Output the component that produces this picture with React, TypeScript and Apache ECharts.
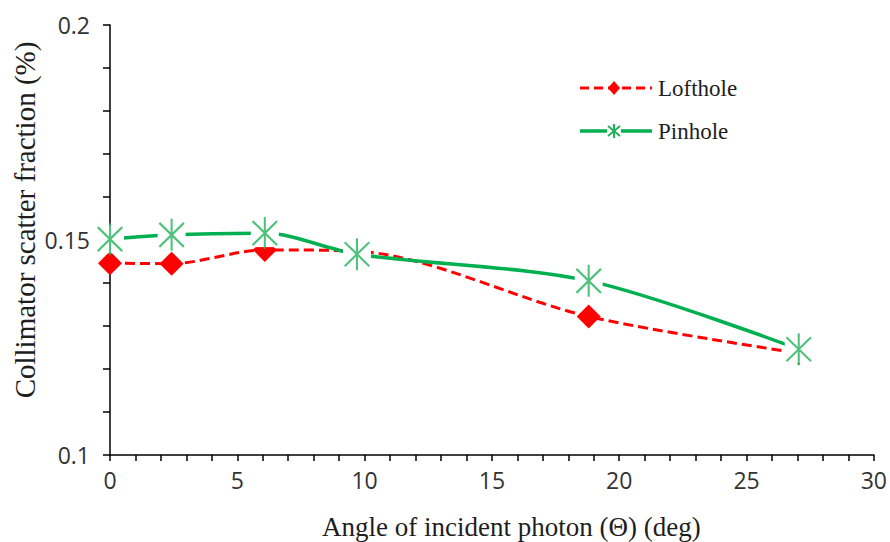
import React, { useEffect, useRef } from "react";
import * as echarts from "echarts";

// ---- Data ----
const angles = [0, 2.42, 6.08, 9.7, 18.8, 27.05];
const lofthole = [0.1446, 0.1445, 0.1477, 0.1474, 0.1322, 0.1237];
const pinhole = [0.1502, 0.1512, 0.1516, 0.1467, 0.1405, 0.1246];
const seriesNames = ["Lofthole", "Pinhole"];
const xTitle = "Angle of incident photon (\u0398) (deg)";
const yTitle = "Collimator scatter fraction (%)";

const RED = "#FF0000";
const GREEN = "#00B050";
const GREEN_MARK = "#22B35A";

function seg(x1: number, y1: number, x2: number, y2: number, w: number) {
  const dx = x2 - x1;
  const dy = y2 - y1;
  const L = Math.hypot(dx, dy);
  const nx = (-dy / L) * w;
  const ny = (dx / L) * w;
  const f = (n: number) => n.toFixed(3);
  return `M${f(x1 + nx)} ${f(y1 + ny)}L${f(x2 + nx)} ${f(y2 + ny)}L${f(x2 - nx)} ${f(y2 - ny)}L${f(x1 - nx)} ${f(y1 - ny)}Z`;
}

const asteriskPath =
  "path://" +
  seg(13, 0, 13, 32, 1.1) +
  seg(0, 4, 26, 28, 1.1) +
  seg(0, 28, 26, 4, 1.1);

const labelFont = "'Liberation Sans Narrow', 'Open Sans', sans-serif";

export default function App() {
  const ref = useRef<HTMLDivElement>(null);
  useEffect(() => {
    if (!ref.current) return;
    const chart = echarts.init(ref.current, null, { renderer: "svg" });
    const toPairs = (ys: number[]) => angles.map((x, i) => [x, ys[i]]);
    chart.setOption({
      animation: false,
      backgroundColor: "#ffffff",
      grid: { left: 110, right: 15, top: 25, bottom: 87 },
      xAxis: {
        type: "value",
        min: 0,
        max: 30,
        interval: 5,
        axisLine: { show: true, lineStyle: { color: "#000", width: 1.5 } },
        axisTick: { show: true, length: 6, lineStyle: { color: "#000", width: 1.5 } },
        minorTick: { show: true, splitNumber: 5, length: 6, lineStyle: { color: "#000", width: 1.5 } },
        splitLine: { show: false },
        axisLabel: {
          fontFamily: labelFont,
          fontSize: 23,
          color: "#333333",
          margin: 13,
        },
      },
      yAxis: {
        type: "value",
        min: 0.1,
        max: 0.2,
        interval: 0.05,
        axisLine: { show: true, lineStyle: { color: "#000", width: 1.5 } },
        axisTick: { show: true, length: 7, lineStyle: { color: "#000", width: 1.5 } },
        minorTick: { show: true, splitNumber: 5, length: 7, lineStyle: { color: "#000", width: 1.5 } },
        splitLine: { show: false },
        axisLabel: {
          fontFamily: labelFont,
          fontSize: 23,
          color: "#333333",
          margin: 20,
          formatter: (v: number) => String(Math.round(v * 100) / 100),
        },
      },
      series: [
        {
          name: seriesNames[0],
          type: "line",
          data: toPairs(lofthole),
          smooth: 0.3,
          symbol: "diamond",
          symbolSize: [24, 24],
          itemStyle: { color: RED },
          lineStyle: { color: RED, width: 3, type: [10, 5] },
          z: 2,
        },
        {
          name: seriesNames[1],
          type: "line",
          data: toPairs(pinhole),
          smooth: 0.3,
          symbol: "rect",
          symbolSize: 28,
          itemStyle: { color: "#ffffff" },
          lineStyle: { color: GREEN, width: 3.5 },
          z: 3,
        },
        {
          name: seriesNames[1] + " markers",
          type: "scatter",
          data: toPairs(pinhole),
          symbol: asteriskPath,
          symbolSize: [26, 32],
          itemStyle: { color: GREEN_MARK },
          z: 4,
        },
      ],
      graphic: [
        {
          type: "text",
          x: 322,
          y: 527,
          style: {
            text: xTitle,
            font: "27px 'Liberation Serif'",
            fill: "#1e1e1e",
            textVerticalAlign: "middle",
          },
        },
        {
          type: "text",
          x: 25,
          y: 220,
          rotation: Math.PI / 2,
          style: {
            text: yTitle,
            font: "29px 'Liberation Serif'",
            fill: "#1e1e1e",
            textAlign: "center",
            textVerticalAlign: "middle",
          },
        },
        // legend: Lofthole
        {
          type: "line",
          shape: { x1: 580, y1: 88, x2: 652, y2: 88 },
          style: { stroke: RED, lineWidth: 3, lineDash: [9, 5] },
        },
        {
          type: "polygon",
          shape: { points: [[614, 81], [620, 88], [614, 95], [608, 88]] },
          style: { fill: RED },
        },
        {
          type: "text",
          x: 658,
          y: 88,
          style: {
            text: seriesNames[0],
            font: "23px 'Liberation Serif'",
            fill: "#1e1e1e",
            textVerticalAlign: "middle",
          },
        },
        // legend: Pinhole
        {
          type: "line",
          shape: { x1: 580, y1: 131, x2: 652, y2: 131 },
          style: { stroke: GREEN, lineWidth: 3.5 },
        },
        {
          type: "rect",
          shape: { x: 607, y: 124, width: 14, height: 14 },
          style: { fill: "#ffffff" },
        },
        {
          type: "line",
          shape: { x1: 614, y1: 124, x2: 614, y2: 138 },
          style: { stroke: GREEN_MARK, lineWidth: 2 },
        },
        {
          type: "line",
          shape: { x1: 608, y1: 126, x2: 620, y2: 136 },
          style: { stroke: GREEN_MARK, lineWidth: 2 },
        },
        {
          type: "line",
          shape: { x1: 608, y1: 136, x2: 620, y2: 126 },
          style: { stroke: GREEN_MARK, lineWidth: 2 },
        },
        {
          type: "text",
          x: 658,
          y: 131,
          style: {
            text: seriesNames[1],
            font: "23px 'Liberation Serif'",
            fill: "#1e1e1e",
            textVerticalAlign: "middle",
          },
        },
      ],
    });
    return () => chart.dispose();
  }, []);
  return (
    <div
      ref={ref}
      style={{ position: "fixed", left: 0, top: 0, width: 890, height: 542, background: "#fff" }}
    />
  );
}
